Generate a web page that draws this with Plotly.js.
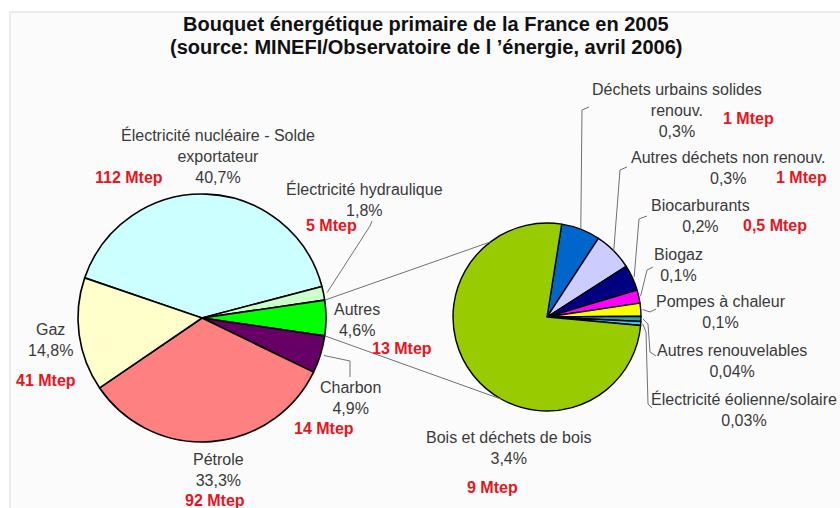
<!DOCTYPE html>
<html>
<head>
<meta charset="utf-8">
<script src="https://cdn.plot.ly/plotly-3.0.1.min.js"></script>
<style>html,body{margin:0;padding:0;background:#fff;}#chart{width:840px;height:508px;}</style>
</head>
<body>
<div id="chart"></div>
<script>
// ---- Data ----
const mainLabels = ['Électricité nucléaire - Solde<br>exportateur', 'Électricité hydraulique', 'Autres', 'Charbon', 'Pétrole', 'Gaz'];
const mainPct = [40.7, 1.8, 4.6, 4.9, 33.3, 14.8];
const mainMtep = ['112', '5', '13', '14', '92', '41'];
const subLabels = ['Déchets urbains solides<br>renouv.', 'Autres déchets non renouv.', 'Biocarburants', 'Biogaz', 'Pompes à chaleur', 'Autres renouvelables', 'Électricité éolienne/solaire', 'Bois et déchets de bois'];
const subPct = [0.3, 0.3, 0.2, 0.1, 0.1, 0.04, 0.03, 3.4];
const subMtep = ['1', '1', '0,5', null, null, null, null, '9'];

// ---- Style / layout ----
const W = 840, H = 508;
const mainColors = ['#CCFFFF', '#CCFFCC', '#00FF00', '#660066', '#FF8080', '#FFFFCC'];
const subColors = ['#0066CC', '#CCCCFF', '#000080', '#FF00FF', '#FFFF00', '#2AA5A5', '#33CCFF', '#99CC00'];
const mainGeo = {cx: 202, cy: 318, r: 124};
const subGeo = {cx: 547, cy: 317, r: 94};
const subRotation = 9;
const autresIndex = 2;
const TXT = '#3a3a3a', RED = '#e8141e', LINE = '#707070';
const FONT = 'Liberation Sans, Arial, sans-serif';

function sum(a) { return a.reduce((s, v) => s + v, 0); }
// rotation of main pie so that the "Autres" slice is centred at 3 o'clock
const mainTot = sum(mainPct);
const autresMidFrac = (sum(mainPct.slice(0, autresIndex)) + mainPct[autresIndex] / 2) / mainTot;
const mainRotation = 90 - 360 * autresMidFrac;

function px(x, y) { return [x / W, 1 - y / H]; }
function edge(geo, angDeg, k) {
  const a = angDeg * Math.PI / 180, r = geo.r * (k || 1);
  return [geo.cx + r * Math.sin(a), geo.cy - r * Math.cos(a)];
}
function sliceAngles(vals, rot) {
  const t = sum(vals); let acc = 0; const out = [];
  vals.forEach(v => { const s = rot + 360 * acc / t; acc += v; out.push({s: s, e: rot + 360 * acc / t, m: (s + rot + 360 * acc / t) / 2}); });
  return out;
}
const mAng = sliceAngles(mainPct, mainRotation);
const sAng = sliceAngles(subPct, subRotation);
function pct(v) { return String(v).replace('.', ',') + '%'; }
function pathStr(pts) {
  return pts.map((p, i) => { const q = px(p[0], p[1]); return (i ? 'L' : 'M') + q[0].toFixed(5) + ',' + q[1].toFixed(5); }).join(' ');
}

function dom(geo) {
  return {x: [(geo.cx - geo.r) / W, (geo.cx + geo.r) / W], y: [1 - (geo.cy + geo.r) / H, 1 - (geo.cy - geo.r) / H]};
}

const traces = [
  {type: 'pie', labels: mainLabels, values: mainPct, sort: false, direction: 'clockwise', rotation: mainRotation,
   marker: {colors: mainColors, line: {color: '#000', width: 1.6}}, textinfo: 'none', hoverinfo: 'label+percent',
   domain: dom(mainGeo), showlegend: false},
  {type: 'pie', labels: subLabels, values: subPct, sort: false, direction: 'clockwise', rotation: subRotation,
   marker: {colors: subColors, line: {color: '#000', width: 1.4}}, textinfo: 'none', hoverinfo: 'label+percent',
   domain: dom(subGeo), showlegend: false}
];

// label placement (px centres)
const mainLabelPos = [[218, 156], [364, 200], [357, 320], [350, 398], [218, 470], [50, 340]];
const mainMtepPos = [[129, 177], [331, 225], [402, 348], [324, 428], [215, 500], [46, 380]];
const subLabelPos = [[677, 110], [728, 168], [700, 216], [678, 265], [721, 312], [732, 361], [744, 409], [509, 448]];
const subMtepPos = [[748, 118], [801, 177], [775, 225], null, null, null, null, [492, 487]];

const annotations = [];
function ann(text, p, color, bold) {
  const q = px(p[0], p[1]);
  annotations.push({text: bold ? '<b>' + text + '</b>' : text, x: q[0], y: q[1], xref: 'paper', yref: 'paper',
    xanchor: 'center', yanchor: 'middle', showarrow: false, align: 'center',
    font: {family: FONT, size: 16, color: color}});
}
mainLabels.forEach((l, i) => ann(l + '<br>' + pct(mainPct[i]), mainLabelPos[i], TXT, false));
mainMtep.forEach((m, i) => ann(m + ' Mtep', mainMtepPos[i], RED, true));
subLabels.forEach((l, i) => ann(l + '<br>' + pct(subPct[i]), subLabelPos[i], TXT, false));
subMtep.forEach((m, i) => { if (m) ann(m + ' Mtep', subMtepPos[i], RED, true); });
// second title line
annotations.push({text: '<b>(source: MINEFI/Observatoire de l ’énergie, avril 2006)</b>', x: 0.507, y: 1 - 47 / H,
  xref: 'paper', yref: 'paper', xanchor: 'center', yanchor: 'middle', showarrow: false,
  font: {family: FONT, size: 20, color: '#111'}});

// shapes
const shapes = [];
shapes.push({type: 'rect', xref: 'paper', yref: 'paper', x0: 10 / W, x1: 1.01, y0: -0.01, y1: 1 - 12 / H,
  fillcolor: '#fbfbfb', line: {color: '#ececec', width: 2}, layer: 'below'});
function line(pts) { shapes.push({type: 'path', xref: 'paper', yref: 'paper', path: pathStr(pts), line: {color: LINE, width: 1}}); }
// connector lines between the two pies (from edges of the "Autres" slice)
const aS = mAng[autresIndex];
line([edge(mainGeo, aS.s), edge(subGeo, 323)]);
line([edge(mainGeo, aS.e), edge(subGeo, 209)]);
// leader lines
line([edge(mainGeo, mAng[1].m, 1.03), [370, 226], [372, 221]]);
line([edge(mainGeo, mAng[3].m, 1.03), [350, 361], [350, 377]]);
line([edge(subGeo, sAng[0].m, 1.0), [582, 110], [589, 107]]);
line([edge(subGeo, sAng[1].m, 1.0), [620, 170], [627, 167]]);
line([edge(subGeo, sAng[2].m, 1.02), [639, 219], [647, 216]]);
line([edge(subGeo, sAng[3].m, 1.02), [647, 270], [653, 267]]);
line([edge(subGeo, sAng[4].m, 1.02), [650, 312], [656, 309]]);
line([edge(subGeo, sAng[5].m, 1.02), [648, 324], [650, 352], [656, 356]]);
line([edge(subGeo, sAng[6].m, 1.02), [646, 332], [648, 404], [652, 408]]);

const layout = {
  width: W, height: H, margin: {l: 0, r: 0, t: 0, b: 0},
  paper_bgcolor: '#ffffff',
  title: {text: '<b>Bouquet énergétique primaire de la France en 2005</b>', x: 0.507, xanchor: 'center',
    y: 1 - 24 / H, yanchor: 'middle', yref: 'container', font: {family: FONT, size: 20, color: '#111'}},
  annotations: annotations, shapes: shapes, showlegend: false
};
Plotly.newPlot('chart', traces, layout, {staticPlot: true});
</script>
</body>
</html>
